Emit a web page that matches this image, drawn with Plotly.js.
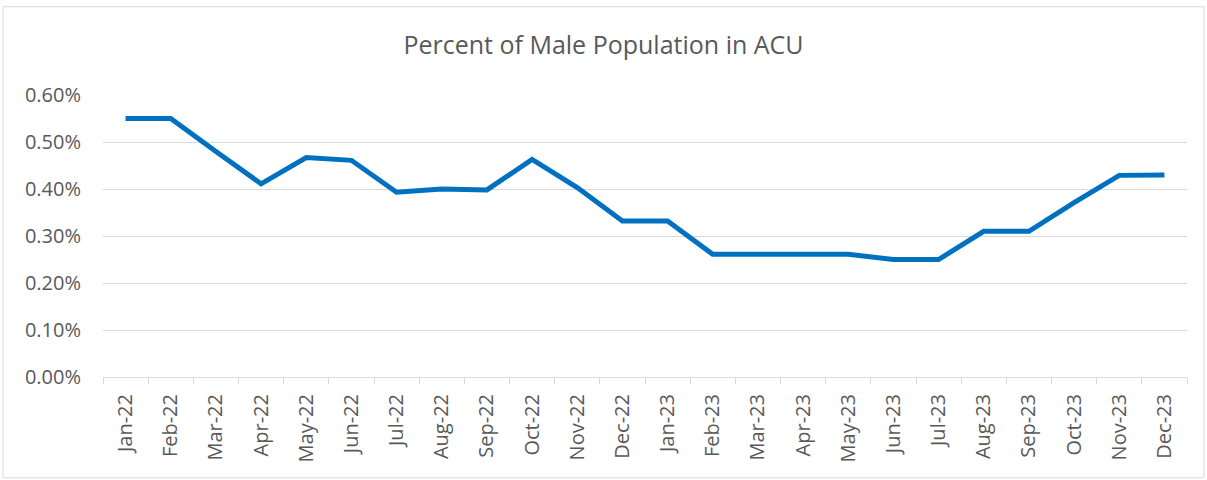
<!DOCTYPE html>
<html>
<head>
<meta charset="utf-8">
<script src="https://cdn.plot.ly/plotly-3.0.1.min.js"></script>
<style>
  html, body { margin: 0; padding: 0; background: #fff; }
  #graphDiv { width: 1207px; height: 480px; }
</style>
</head>
<body>
<div id="graphDiv"></div>
<script>
  // months on the x axis
  var months = ['Jan-22', 'Feb-22', 'Mar-22', 'Apr-22', 'May-22', 'Jun-22',
    'Jul-22', 'Aug-22', 'Sep-22', 'Oct-22', 'Nov-22', 'Dec-22',
    'Jan-23', 'Feb-23', 'Mar-23', 'Apr-23', 'May-23', 'Jun-23',
    'Jul-23', 'Aug-23', 'Sep-23', 'Oct-23', 'Nov-23', 'Dec-23'];

  // percent of male population (as fractions)
  var malePct = [0.0055, 0.0055, 0.0048, 0.00411, 0.00467, 0.00461,
    0.00393, 0.0040, 0.00398, 0.00463, 0.00403, 0.00332,
    0.00332, 0.00261, 0.00261, 0.00261, 0.00261, 0.0025,
    0.0025, 0.0031, 0.0031, 0.00371, 0.00429, 0.0043];

  var pct = {
    x: months,
    y: malePct,
    type: 'scatter',
    mode: 'lines',
    line: { color: '#0070C0', width: 5 },
    hoverinfo: 'x+y'
  };

  var layout = {
    width: 1207,
    height: 480,
    margin: { l: 103, r: 20, t: 94.5, b: 103 },
    paper_bgcolor: '#fff',
    plot_bgcolor: '#fff',
    showlegend: false,
    font: { family: 'Open Sans, Liberation Sans, sans-serif', color: '#595959', size: 20 },
    title: {
      text: 'Percent of Male Population in ACU',
      font: { family: 'Open Sans, sans-serif', size: 25, color: '#595959' },
      x: 0.5, xanchor: 'center', y: 0.905, yanchor: 'middle'
    },
    xaxis: {
      type: 'category',
      range: [-0.5, 23.5],
      tickangle: -90,
      tickson: 'boundaries',
      ticks: 'outside',
      ticklen: 6,
      tickcolor: '#d9d9d9',
      ticklabelstandoff: 8,
      showline: true,
      linecolor: '#d9d9d9',
      linewidth: 1,
      showgrid: false,
      zeroline: false,
      tickfont: { size: 20, color: '#595959' },
      fixedrange: true
    },
    yaxis: {
      range: [0, 0.006],
      dtick: 0.001,
      tick0: 0,
      tickformat: '.2%',
      showgrid: true,
      gridcolor: '#d9d9d9',
      gridwidth: 1,
      zeroline: false,
      showline: false,
      ticks: '',
      ticklabelstandoff: 21,
      tickfont: { size: 20, color: '#595959' },
      fixedrange: true
    },
    shapes: [{
      type: 'rect', xref: 'paper', yref: 'paper',
      x0: -0.0923, x1: 1.0157, y0: -0.3575, y1: 1.313,
      line: { color: '#d9d9d9', width: 1 }, fillcolor: 'rgba(0,0,0,0)', layer: 'below'
    }]
  };

  Plotly.newPlot('graphDiv', [pct], layout, { displayModeBar: false, staticPlot: true });
</script>
</body>
</html>
